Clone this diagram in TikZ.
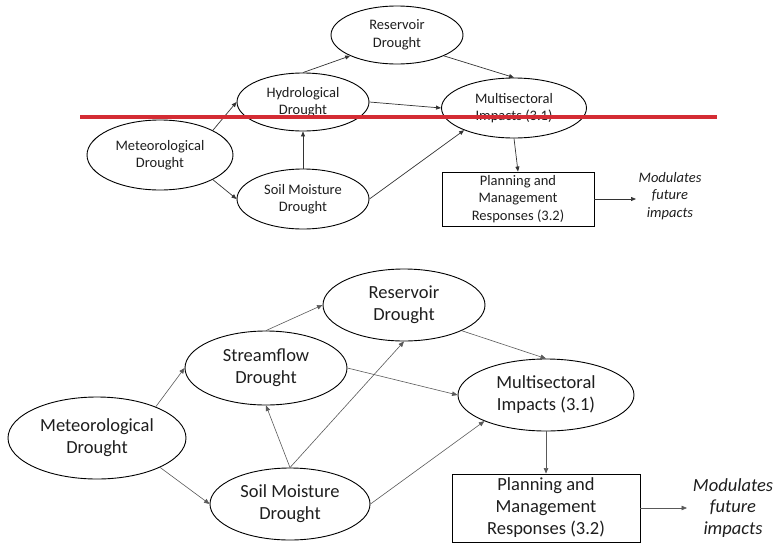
\documentclass[tikz,border=0pt]{standalone}
\usepackage{fontspec}
\setmainfont{Carlito}
\usetikzlibrary{shapes.geometric,arrows.meta}
\definecolor{redline}{RGB}{212,44,52}
\definecolor{txt}{RGB}{30,30,30}
\tikzset{
  small/.style={font=\fontsize{14.5}{17.5}\selectfont, text=txt, align=center},
  large/.style={font=\fontsize{18.5}{22}\selectfont, text=txt, align=center},
  ell/.style={ellipse, draw=black, line width=0.9pt, inner sep=0pt},
  boxn/.style={rectangle, draw=black, line width=0.9pt, inner sep=0pt},
  arrS/.style={draw=black!80, line width=0.7pt, -{Triangle[length=5pt,width=4pt]}},
  arrL/.style={draw=black!65, line width=0.6pt, -{Triangle[length=5.5pt,width=4.5pt]}},
}
\begin{document}
\begin{tikzpicture}[x=1pt,y=-1pt]
\useasboundingbox (0,0) rectangle (773,544);
% ---------- top diagram ----------
\node[ell, small, minimum width=146pt, minimum height=70pt] (met1) at (160,155) {Meteorological\\Drought};
\node[ell, small, minimum width=132pt, minimum height=58pt] (hyd1) at (303,102) {Hydrological\\Drought};
\node[ell, small, minimum width=132pt, minimum height=58pt] (res1) at (397,35) {Reservoir\\Drought};
\node[ell, small, minimum width=132pt, minimum height=60pt] (soil1) at (303,199) {Soil Moisture\\Drought};
\node[ell, small, minimum width=145pt, minimum height=60pt] (multi1) at (514,108) {Multisectoral\\Impacts (3.1)};
\node[boxn, small, minimum width=152pt, minimum height=54pt] (plan1) at (518,199) {Planning and\\Management\\Responses (3.2)};
\node[small, font=\fontsize{14.5}{17.5}\selectfont\itshape] (mod1) at (670,196) {Modulates\\future\\impacts};
\coordinate (end1) at (636,199);

\draw[arrS] (met1.25) -- (hyd1.west);
\draw[arrS] (met1.-25) -- (soil1.west);
\draw[arrS] (soil1.north) -- (hyd1.south);
\draw[arrS] (hyd1.north) -- (res1.-156);
\draw[arrS] (hyd1.east) -- (multi1.west);
\draw[arrS] (res1.-24) -- (multi1.north);
\draw[arrS] (soil1.east) -- (multi1.-156);
\draw[arrS] (multi1.south) -- (plan1.north);
\draw[arrS] (plan1.east) -- (end1);

% ---------- bottom diagram ----------
\node[ell, large, minimum width=178pt, minimum height=82pt] (met2) at (97,438) {Meteorological\\Drought};
\node[ell, large, minimum width=162pt, minimum height=74pt] (str2) at (266,368) {Streamflow\\Drought};
\node[ell, large, minimum width=162pt, minimum height=72pt] (res2) at (404,305) {Reservoir\\Drought};
\node[ell, large, minimum width=160pt, minimum height=72pt] (soil2) at (290,504) {Soil Moisture\\Drought};
\node[ell, large, minimum width=176pt, minimum height=72pt] (multi2) at (546,395) {Multisectoral\\Impacts (3.1)};
\node[boxn, large, minimum width=188pt, minimum height=68pt] (plan2) at (546,508) {Planning and\\Management\\Responses (3.2)};
\node[large, font=\fontsize{18.5}{21.5}\selectfont\itshape] (mod2) at (733,508) {Modulates\\future\\impacts};
\coordinate (end2) at (687,508);

\draw[arrL] (met2.28) -- (str2.west);
\draw[arrL] (met2.-25) -- (soil2.west);
\draw[arrL] (soil2.north) -- (str2.south);
\draw[arrL] (soil2.north) -- (res2.south);
\draw[arrL] (str2.north) -- (res2.west);
\draw[arrL] (str2.east) -- (multi2.west);
\draw[arrL] (res2.-24) -- (multi2.north);
\draw[arrL] (soil2.east) -- (multi2.-157);
\draw[arrL] (multi2.south) -- (plan2.north);
\draw[arrL] (plan2.east) -- (end2);

% ---------- red line ----------
\draw[redline, line width=4pt] (80,117) -- (717,117);
\end{tikzpicture}
\end{document}
